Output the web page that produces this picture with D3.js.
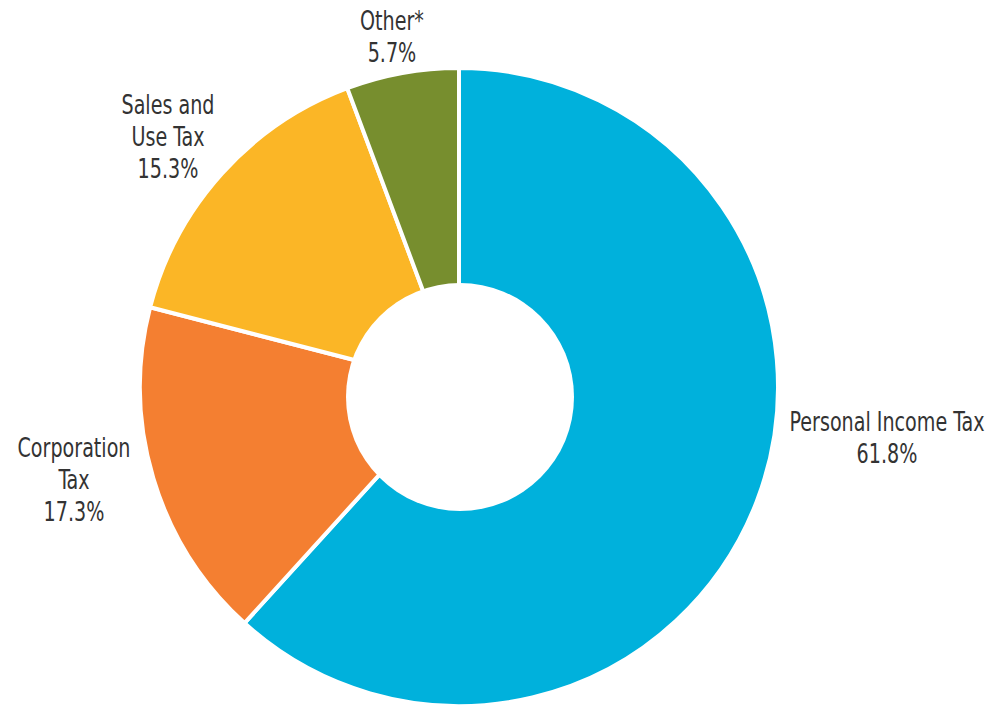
<!DOCTYPE html>
<html><head><meta charset="utf-8">
<script src="https://cdn.jsdelivr.net/npm/d3@7"></script>
<style>
html,body{margin:0;padding:0;background:#fff;}
svg{display:block;}
text{font-family:"Liberation Sans Narrow","DejaVu Sans Condensed","Roboto Condensed",sans-serif;fill:#333;}
</style></head>
<body>
<svg id="chart" width="990" height="708"></svg>
<script>
const categories = ["Personal Income Tax", "Corporation Tax", "Sales and Use Tax", "Other*"];
const shares = [61.8, 17.3, 15.3, 5.7];
const percentLabels = ["61.8%", "17.3%", "15.3%", "5.7%"];
const labelLines = [["Personal Income Tax"], ["Corporation", "Tax"], ["Sales and", "Use Tax"], ["Other*"]];
const colors = ["#00B1DC", "#F47F31", "#FBB626", "#778E2E"];

const svg = d3.select("#chart");
const cx = 459, cy = 387, R = 319;
const g = svg.append("g").attr("transform", `translate(${cx},${cy})`);
const pie = d3.pie().sort(null).value(d => d)(shares);
const arc = d3.arc().innerRadius(0).outerRadius(R);
g.selectAll("path").data(pie).join("path")
  .attr("d", arc)
  .attr("fill", (d, i) => colors[i])
  .attr("stroke", "#fff")
  .attr("stroke-width", 4)
  .attr("stroke-linejoin", "miter");
// donut hole
svg.append("circle").attr("cx", 460).attr("cy", 397).attr("r", 114).attr("fill", "#fff");

// labels: [center x, first baseline]
const labelPos = [[887, 431], [74, 457], [168, 114], [392, 30]];
const lineH = 32;
const fs = 26;
// measure horizontal compression to mimic a condensed face
const probe = svg.append("text").attr("font-size", fs).text("Personal Income Tax");
const k = 195 / probe.node().getComputedTextLength();
probe.remove();
categories.forEach((c, i) => {
  const lines = labelLines[i].concat([percentLabels[i]]);
  const x0 = labelPos[i][0];
  const t = svg.append("text").attr("text-anchor", "middle").attr("font-size", fs)
    .attr("transform", `translate(${x0},0) scale(${k},1)`);
  lines.forEach((ln, j) => {
    t.append("tspan").attr("x", 0).attr("y", labelPos[i][1] + j * lineH).text(ln);
  });
});
</script>
</body></html>
